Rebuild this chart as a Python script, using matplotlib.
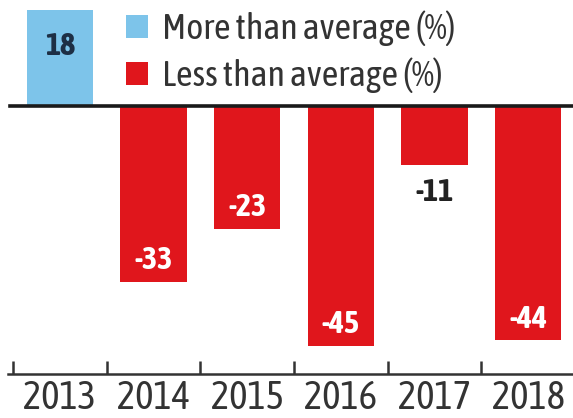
import matplotlib
matplotlib.use("Agg")
import matplotlib.pyplot as plt
from matplotlib.patches import Patch

plt.rcParams['font.family'] = ['Asap Condensed', 'Barlow Condensed', 'DejaVu Sans']

years = ["2013", "2014", "2015", "2016", "2017", "2018"]
values = [18, -33, -23, -45, -11, -44]
label_texts = ["18", "-33", "-23", "-45", "-11", "-44"]
legend_labels = ["More than average (%)", "Less than average (%)"]

BLUE = "#7DC4EA"
RED = "#E0161C"
TEXT = "#333333"

W, H = 573, 418
fig = plt.figure(figsize=(W / 100, H / 100), dpi=100)
ax_bottom_px = 374
ax = fig.add_axes([0, (H - ax_bottom_px) / H, 1, ax_bottom_px / H])

x = list(range(len(years)))
colors = [BLUE if v > 0 else RED for v in values]
ax.bar(x, values, width=0.71, color=colors, zorder=2)

ax.set_xlim(-0.64, 5.48)
ax.set_ylim(-50.3, 19.9)

ax.axhline(0, xmin=0.017, xmax=1, color="#1a1a1a", lw=2.6, zorder=3)

for i, (v, t) in enumerate(zip(values, label_texts)):
    if v > 0:
        ax.text(i, v - 6.8, t, ha="center", va="center", color="#1d2f45",
                fontsize=23, fontweight="bold")
    elif v < -15:
        ax.text(i, v + 4.0, t, ha="center", va="center", color="white",
                fontsize=23, fontweight="bold")
    else:
        ax.text(i, v - 5.2, t, ha="center", va="center", color="#222222",
                fontsize=23, fontweight="bold")

for s in ["top", "right", "left"]:
    ax.spines[s].set_visible(False)
ax.spines["bottom"].set_color("#333333")
ax.spines["bottom"].set_linewidth(1.8)
ax.spines["bottom"].set_bounds(-0.55, 5.48)
ax.set_yticks([])

ax.set_xticks(x)
ax.set_xticklabels(years, fontsize=28, color=TEXT)
ax.tick_params(axis="x", which="major", length=0, pad=3.5)
ax.set_xticks([i - 0.5 for i in x], minor=True)
ax.tick_params(axis="x", which="minor", direction="in", length=9.5, width=1.8,
               color="#333333")

handles = [Patch(facecolor=BLUE, edgecolor="none"),
           Patch(facecolor=RED, edgecolor="none")]
ax.legend(handles, legend_labels, loc="upper left",
          bbox_to_anchor=(126 / W, 1.0 - 11 / ax_bottom_px), frameon=False,
          fontsize=26, handlelength=0.6, handleheight=0.6, handletextpad=0.4,
          labelspacing=0.3, borderaxespad=0, borderpad=0,
          labelcolor=TEXT)

fig.savefig("out.png", dpi=100)
